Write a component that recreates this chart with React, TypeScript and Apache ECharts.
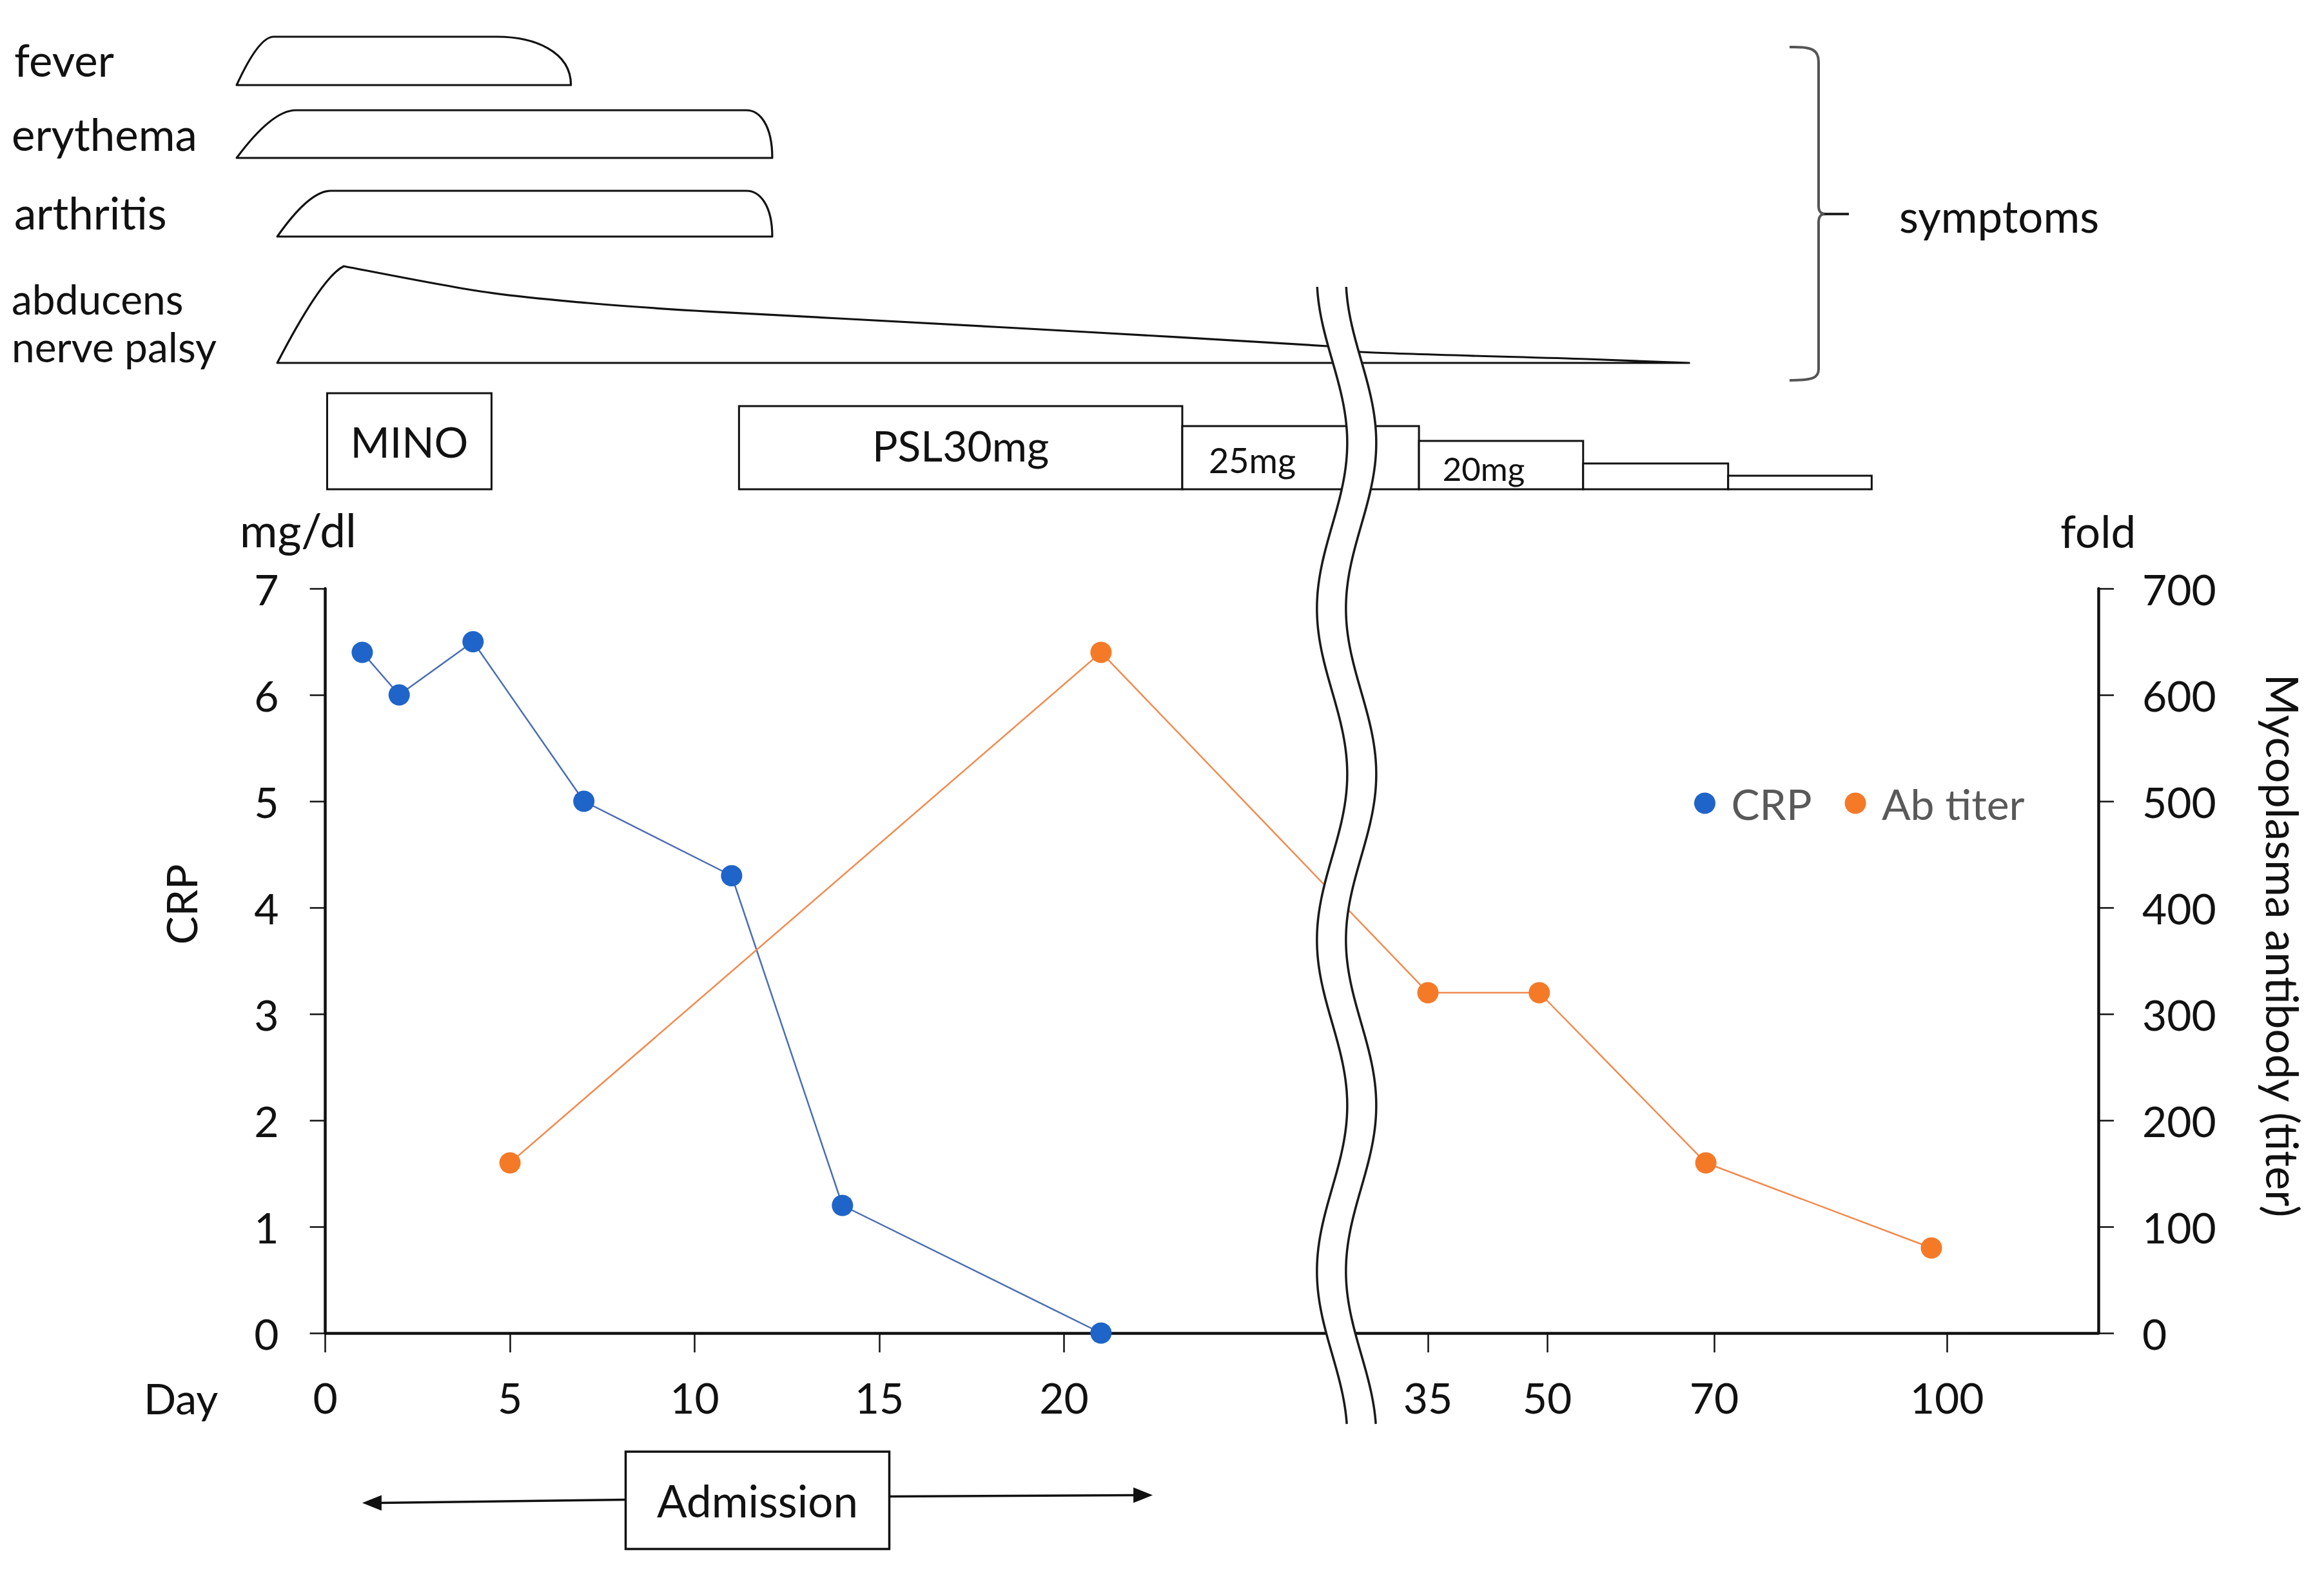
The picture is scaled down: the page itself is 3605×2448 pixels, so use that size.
import React, { useEffect, useRef } from 'react';
import * as echarts from 'echarts';

const W = 3605;
const H = 2448;
const FONT = 'Lato, "Open Sans", sans-serif';
const INK = '#111';

// ---------- data ----------
const crpDays = [1, 2, 4, 7, 11, 14, 21];
const crpValues = [6.4, 6.0, 6.5, 5.0, 4.3, 1.2, 0.0];
const abDays = [5, 21, 35, 49, 69, 98];
const abTiters = [160, 640, 320, 320, 160, 80];

// broken day axis: tick labels, and the anchors of the (piecewise) day scale
const dayTicks = [0, 5, 10, 15, 20, 35, 50, 70, 100];
const scaleDays = [0, 25, 35, 50, 70, 100];
const scalePos = [0, 25, 29.85, 33.08, 37.6, 43.9];
const breakDay = 30.46;

// symptoms (days)
const symptomNames = ['fever', 'erythema', 'arthritis', 'abducens\nnerve palsy'];
const symptomOnset = [-2.4, -2.4, -1.3, -1.3];
const symptomPeak = [-1.4, -0.8, 0.15, 0.5];
const symptomEase = [4.65, 11.4, 11.4, 0.5];
const symptomResolved = [6.65, 12.1, 12.1, 67];
const palsyCourseDays = [0.5, 4.2, 7.1, 10, 13.9, 20.6, 29.7, 31.6, 54.7, 67];
const palsyCourseLevel = [1, 0.74, 0.62, 0.54, 0.46, 0.32, 0.17, 0.11, 0.04, 0];

// treatments (days)
const treatNames = ['MINO', 'PSL30mg', '25mg', '20mg', '', ''];
const treatStart = [0.05, 11.2, 23.2, 34.5, 54.3, 71.8];
const treatEnd = [4.5, 23.2, 34.5, 54.3, 71.8, 90.3];

// admission (days)
const admissionDays = [1, 22.4];

// ---------- layout ----------
const L = {
  gridLeft: 504.6,
  gridTop: 913,
  gridW: 2750.4,
  gridH: 1155,
  symBase: [132, 245, 367, 563],
  symHeight: [75, 74, 71, 150],
  symLabelX: [22, 18, 22, 18],
  symLabelY: [92, 207, 329, 500],
  symFont: [69, 69, 69, 64],
  symLineGap: 74,
  treatTop: [610, 630, 661, 684, 719, 738],
  treatBottom: 759,
  treatFont: [66, 66, 54, 51, 51, 51],
  treatLabelDx: [0, 0, -75, -27, 0, 0],
  treatLabelDy: [0, -4, 3, 5, 0, 0],
  admTop: 2252,
  admBottom: 2403,
  admW: 409,
  breakTop: 445,
  breakBottom: 2211,
};

function dayToPos(d: number): number {
  const n = scaleDays.length;
  if (d <= scaleDays[0]) return scalePos[0] + (d - scaleDays[0]);
  for (let i = 1; i < n; i++) {
    if (d <= scaleDays[i]) {
      const t = (d - scaleDays[i - 1]) / (scaleDays[i] - scaleDays[i - 1]);
      return scalePos[i - 1] + t * (scalePos[i] - scalePos[i - 1]);
    }
  }
  const slope = (scalePos[n - 1] - scalePos[n - 2]) / (scaleDays[n - 1] - scaleDays[n - 2]);
  return scalePos[n - 1] + (d - scaleDays[n - 1]) * slope;
}

const dayTickPos = dayTicks.map(dayToPos);

const txt = (size: number, extra: any = {}) => ({
  fontSize: size,
  fontFamily: FONT,
  fill: INK,
  ...extra,
});

function renderSymptom(params: any, api: any) {
  const i = params.dataIndex;
  const px = (d: number) => api.coord([dayToPos(d), 0])[0];
  const base = L.symBase[i];
  const h = L.symHeight[i];
  const top = base - h;
  const x0 = px(symptomOnset[i]);
  const x1 = px(symptomPeak[i]);
  let d = '';
  if (i === 3) {
    const pts = palsyCourseDays.map((dd, k) => [px(dd), base - palsyCourseLevel[k] * h]);
    d = `M${x0},${base} Q${x0 + 0.67 * (x1 - x0)},${base - 0.89 * h} ${pts[0][0]},${pts[0][1]}`;
    for (let k = 0; k < pts.length - 1; k++) {
      const p0 = pts[k - 1] || pts[k];
      const p1 = pts[k];
      const p2 = pts[k + 1];
      const p3 = pts[k + 2] || pts[k + 1];
      const c1x = p1[0] + (p2[0] - p0[0]) / 6;
      const c1y = p1[1] + (p2[1] - p0[1]) / 6;
      const c2x = p2[0] - (p3[0] - p1[0]) / 6;
      const c2y = p2[1] - (p3[1] - p1[1]) / 6;
      d += ` C${c1x},${c1y} ${c2x},${c2y} ${p2[0]},${p2[1]}`;
    }
    d += ` L${x0},${base} Z`;
  } else {
    const x2 = px(symptomEase[i]);
    const x3 = px(symptomResolved[i]);
    d =
      `M${x0},${base} Q${x0 + 0.6 * (x1 - x0)},${top} ${x1},${top} L${x2},${top} ` +
      `C${x2 + 0.5 * (x3 - x2)},${top} ${x3},${top + 0.3 * h} ${x3},${base} Z`;
  }
  const children: any[] = [
    {
      type: 'path',
      shape: { pathData: d },
      style: { fill: 'none', stroke: INK, lineWidth: 3.2, lineJoin: 'round' },
    },
  ];
  const lines = symptomNames[i].split('\n');
  lines.forEach((line, k) => {
    children.push({
      type: 'text',
      x: L.symLabelX[i],
      y: L.symLabelY[i] + (k - (lines.length - 1) / 2) * L.symLineGap,
      style: txt(L.symFont[i], {
        text: line,
        textAlign: 'left',
        textVerticalAlign: 'middle',
      }),
    });
  });
  return { type: 'group', children };
}

function renderTreatment(params: any, api: any) {
  const i = params.dataIndex;
  const px = (d: number) => api.coord([dayToPos(d), 0])[0];
  const xa = px(treatStart[i]);
  const xb = px(treatEnd[i]);
  const top = L.treatTop[i];
  const bottom = L.treatBottom;
  const children: any[] = [
    {
      type: 'rect',
      shape: { x: xa, y: top, width: xb - xa, height: bottom - top },
      style: { fill: '#fff', stroke: INK, lineWidth: 3 },
    },
  ];
  if (treatNames[i]) {
    children.push({
      type: 'text',
      x: (xa + xb) / 2 + L.treatLabelDx[i],
      y: (top + bottom) / 2 + L.treatLabelDy[i],
      style: txt(L.treatFont[i], {
        text: treatNames[i],
        textAlign: 'center',
        textVerticalAlign: 'middle',
      }),
    });
  }
  return { type: 'group', children };
}

function renderAdmission(params: any, api: any) {
  const px = (d: number) => api.coord([dayToPos(d), 0])[0];
  const tipL = px(admissionDays[0]);
  const tipR = px(admissionDays[1]);
  const cx = (tipL + tipR) / 2;
  const bl = cx - L.admW / 2;
  const br = cx + L.admW / 2;
  const cy = (L.admTop + L.admBottom) / 2;
  const head = 30;
  const hw = 12;
  const yl = cy + 4;
  const yr = cy - 8;
  return {
    type: 'group',
    children: [
      {
        type: 'line',
        shape: { x1: bl, y1: cy - 1, x2: tipL + head - 4, y2: yl },
        style: { stroke: INK, lineWidth: 3.5 },
      },
      {
        type: 'polygon',
        shape: { points: [[tipL, yl], [tipL + head, yl - hw], [tipL + head, yl + hw]] },
        style: { fill: INK },
      },
      {
        type: 'line',
        shape: { x1: br, y1: cy - 6, x2: tipR - head + 4, y2: yr },
        style: { stroke: INK, lineWidth: 3.5 },
      },
      {
        type: 'polygon',
        shape: { points: [[tipR, yr], [tipR - head, yr - hw], [tipR - head, yr + hw]] },
        style: { fill: INK },
      },
      {
        type: 'rect',
        shape: { x: bl, y: L.admTop, width: L.admW, height: L.admBottom - L.admTop },
        style: { fill: '#fff', stroke: INK, lineWidth: 3.5 },
      },
      {
        type: 'text',
        x: cx,
        y: cy,
        style: txt(69, { text: 'Admission', textAlign: 'center', textVerticalAlign: 'middle' }),
      },
    ],
  };
}

function renderBreak(params: any, api: any) {
  const bx = api.coord([dayToPos(breakDay), 0])[0];
  const half = 257;
  const ref = 1972;
  const amp = 23.5;
  const left: number[][] = [];
  const right: number[][] = [];
  for (let y = L.breakTop; y <= L.breakBottom + 0.1; y += 6) {
    const w = -amp * Math.cos((Math.PI * (y - ref)) / half);
    left.push([bx - 22.5 + w, y]);
    right.push([bx + 22.5 + w, y]);
  }
  const poly = left.concat(right.slice().reverse());
  return {
    type: 'group',
    children: [
      { type: 'polygon', shape: { points: poly }, style: { fill: '#fff', stroke: 'none' } },
      { type: 'polyline', shape: { points: left }, style: { fill: 'none', stroke: '#1a1a1a', lineWidth: 3.5 } },
      { type: 'polyline', shape: { points: right }, style: { fill: 'none', stroke: '#1a1a1a', lineWidth: 3.5 } },
    ],
  };
}

const axisLabelStyle = { fontSize: 66, fontFamily: FONT, color: INK };

function buildOption(): any {
  const braceColor = '#555';
  return {
    animation: false,
    backgroundColor: '#fff',
    textStyle: { fontFamily: FONT },
    grid: {
      left: L.gridLeft,
      top: L.gridTop,
      width: L.gridW,
      height: L.gridH,
      containLabel: false,
      outerBoundsMode: 'none',
    },
    legend: {
      data: ['CRP', 'Ab titer'],
      left: 2628,
      top: 1213,
      padding: 0,
      icon: 'circle',
      itemWidth: 72,
      itemHeight: 33,
      itemGap: 51,
      textStyle: { fontSize: 66, fontFamily: FONT, color: '#595959' },
      selectedMode: false,
    },
    xAxis: {
      type: 'value',
      min: 0,
      max: 48,
      axisLine: { show: true, lineStyle: { color: INK, width: 4.5 } },
      axisTick: { show: true, length: 30, inside: false, customValues: dayTickPos, lineStyle: { color: INK, width: 2.5 } },
      axisLabel: {
        ...axisLabelStyle,
        margin: 66,
        customValues: dayTickPos,
        formatter: (v: number) => {
          const k = dayTickPos.findIndex((p) => Math.abs(p - v) < 1e-6);
          return k >= 0 ? String(dayTicks[k]) : '';
        },
      },
      splitLine: { show: false },
    },
    yAxis: [
      {
        type: 'value',
        min: 0,
        max: 7,
        interval: 1,
        position: 'left',
        axisLine: { show: true, lineStyle: { color: INK, width: 4.5 } },
        axisTick: { show: true, length: 24, inside: false, lineStyle: { color: INK, width: 2.5 } },
        axisLabel: { ...axisLabelStyle, margin: 72 },
        splitLine: { show: false },
      },
      {
        type: 'value',
        min: 0,
        max: 700,
        interval: 100,
        position: 'right',
        axisLine: { show: true, lineStyle: { color: INK, width: 4.5 } },
        axisTick: { show: true, length: 24, inside: false, lineStyle: { color: INK, width: 2.5 } },
        axisLabel: { ...axisLabelStyle, margin: 68 },
        splitLine: { show: false },
      },
    ],
    series: [
      {
        type: 'line',
        name: 'CRP',
        yAxisIndex: 0,
        data: crpDays.map((d, i) => [dayToPos(d), crpValues[i]]),
        symbol: 'circle',
        symbolSize: 33,
        itemStyle: { color: '#1F64C8' },
        lineStyle: { color: '#4A6DB3', width: 2.5 },
        silent: true,
        z: 3,
      },
      {
        type: 'line',
        name: 'Ab titer',
        yAxisIndex: 1,
        data: abDays.map((d, i) => [dayToPos(d), abTiters[i]]),
        symbol: 'circle',
        symbolSize: 33,
        itemStyle: { color: '#F57A28' },
        lineStyle: { color: '#F28A4E', width: 2.5 },
        silent: true,
        z: 3,
      },
      {
        type: 'custom',
        name: 'symptoms',
        renderItem: renderSymptom,
        data: symptomNames.map((n, i) => ({ name: n, value: [dayToPos(symptomOnset[i]), 0] })),
        clip: false,
        silent: true,
        z: 4,
      },
      {
        type: 'custom',
        name: 'treatment',
        renderItem: renderTreatment,
        data: treatNames.map((n, i) => ({ name: n, value: [dayToPos(treatStart[i]), 0] })),
        clip: false,
        silent: true,
        z: 4,
      },
      {
        type: 'custom',
        name: 'admission',
        renderItem: renderAdmission,
        data: [{ name: 'Admission', value: [dayToPos(admissionDays[0]), 0] }],
        clip: false,
        silent: true,
        z: 4,
      },
      {
        type: 'custom',
        name: 'axis break',
        renderItem: renderBreak,
        data: [{ value: [dayToPos(breakDay), 0] }],
        clip: false,
        silent: true,
        z: 20,
      },
    ],
    graphic: [
      {
        type: 'text',
        x: 372,
        y: 821,
        style: { text: 'mg/dl', fontSize: 71, fontFamily: FONT, fill: INK, textAlign: 'left', textVerticalAlign: 'middle' },
      },
      {
        type: 'text',
        x: 3196,
        y: 823,
        style: { text: 'fold', fontSize: 69, fontFamily: FONT, fill: INK, textAlign: 'left', textVerticalAlign: 'middle' },
      },
      {
        type: 'text',
        x: 223,
        y: 2168,
        style: { text: 'Day', fontSize: 66, fontFamily: FONT, fill: INK, textAlign: 'left', textVerticalAlign: 'middle' },
      },
      {
        type: 'text',
        x: 280,
        y: 1403,
        rotation: Math.PI / 2,
        style: { text: 'CRP', fontSize: 66, fontFamily: FONT, fill: INK, textAlign: 'center', textVerticalAlign: 'middle' },
      },
      {
        type: 'text',
        x: 3541,
        y: 1467,
        rotation: -Math.PI / 2,
        style: {
          text: 'Mycoplasma antibody (titer)',
          fontSize: 69,
          fontFamily: FONT,
          fill: INK,
          textAlign: 'center',
          textVerticalAlign: 'middle',
        },
      },
      {
        type: 'text',
        x: 2946,
        y: 334,
        style: { text: 'symptoms', fontSize: 69, fontFamily: FONT, fill: INK, textAlign: 'left', textVerticalAlign: 'middle' },
      },
      {
        type: 'group',
        children: [
          {
            type: 'bezierCurve',
            shape: { x1: 2776, y1: 73, cpx1: 2812, cpy1: 72, cpx2: 2821, cpy2: 78, x2: 2821, y2: 96 },
            style: { stroke: braceColor, lineWidth: 4, fill: 'none' },
          },
          { type: 'line', shape: { x1: 2821, y1: 95, x2: 2821, y2: 320 }, style: { stroke: braceColor, lineWidth: 4 } },
          {
            type: 'bezierCurve',
            shape: { x1: 2821, y1: 319, cpx1: 2821, cpy1: 328, cpx2: 2824, cpy2: 332, x2: 2832, y2: 332 },
            style: { stroke: braceColor, lineWidth: 4, fill: 'none' },
          },
          {
            type: 'bezierCurve',
            shape: { x1: 2832, y1: 332, cpx1: 2824, cpy1: 332, cpx2: 2821, cpy2: 336, x2: 2821, y2: 345 },
            style: { stroke: braceColor, lineWidth: 4, fill: 'none' },
          },
          { type: 'line', shape: { x1: 2830, y1: 332, x2: 2868, y2: 332 }, style: { stroke: '#222', lineWidth: 4 } },
          { type: 'line', shape: { x1: 2821, y1: 344, x2: 2821, y2: 574 }, style: { stroke: braceColor, lineWidth: 4 } },
          {
            type: 'bezierCurve',
            shape: { x1: 2821, y1: 573, cpx1: 2821, cpy1: 586, cpx2: 2812, cpy2: 590, x2: 2776, y2: 590 },
            style: { stroke: braceColor, lineWidth: 4, fill: 'none' },
          },
        ],
      },
    ],
  };
}

export default function App() {
  const ref = useRef<HTMLDivElement>(null);
  useEffect(() => {
    document.body.style.margin = '0';
    document.body.style.overflow = 'hidden';
    const chart = echarts.init(ref.current as HTMLDivElement, null, { renderer: 'svg', width: W, height: H });
    chart.setOption(buildOption());
    return () => chart.dispose();
  }, []);
  return <div ref={ref} style={{ width: W, height: H, background: '#fff' }} />;
}
